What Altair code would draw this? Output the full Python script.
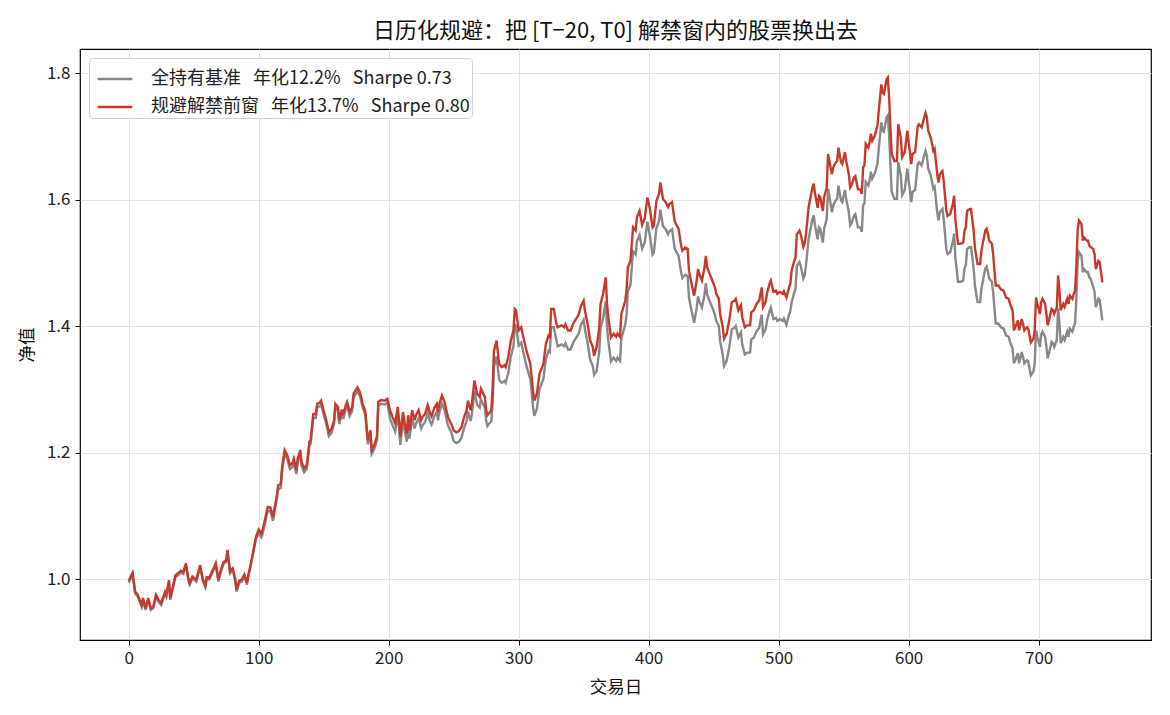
import altair as alt
import pandas as pd

# trading-day index of each read point
days = [0, 3, 5, 7, 10, 11, 13, 15, 17, 19, 21, 23, 25, 28, 29, 31, 32, 34, 36, 38,
        40, 42, 44, 46, 47, 49, 52, 55, 57, 59, 60, 62, 65, 67, 69, 71, 73, 75, 76, 78,
        80, 82, 83, 85, 87, 89, 91, 92, 94, 96, 98,
        100, 102, 103, 107, 109, 111, 114, 115, 117, 118, 120, 122, 124, 126, 127, 129, 130, 132, 133,
        135, 137, 139, 140, 142, 144, 145, 147, 148, 150, 152, 154, 156, 158, 159, 161, 162, 164, 165,
        167, 168, 170, 172, 173, 176, 178, 180, 182, 184, 186, 187, 189, 191, 192, 194, 197, 199,
        201, 203, 205, 207, 208, 209, 211, 212, 214, 215, 216, 218, 220, 221, 223, 225, 226, 228,
        230, 232, 233, 235, 237, 238, 239, 241, 243, 245, 246, 248,
        250, 252, 254, 256, 258, 260, 261, 263, 264, 266, 268, 270, 271, 274, 275, 276, 279,
        280, 281, 283, 285, 287, 289, 290, 292, 294, 296, 297, 298,
        300, 302, 303, 306, 309, 311, 312, 314, 316, 319, 321, 323, 324, 325, 327, 329,
        330, 333, 335, 336, 338, 340, 342, 344, 346, 348, 350, 351, 353, 355, 357, 358,
        360, 362, 363, 365, 367, 368, 369, 371, 373, 375, 376, 378, 379, 382, 383, 384, 386, 388,
        390, 391, 393, 395, 397, 399,
        401, 403, 404, 406, 408, 409, 411, 413, 415, 416, 418, 420, 421, 423, 425, 426, 428, 430,
        431, 433, 435, 437, 438, 439, 441, 443, 444, 445, 447, 449, 451, 452, 454, 455, 457, 458,
        460, 462, 464, 466, 467, 469, 471, 472, 474, 476, 478, 479, 481, 483, 485, 487, 488, 490,
        491, 493, 494, 496, 498, 499, 501, 503, 504, 506, 508, 509,
        510, 512, 513, 514, 516, 517, 519, 520, 521, 523, 524, 526, 527, 528, 530, 531, 532, 534,
        535, 537, 538, 539,
        541, 542, 544, 545, 546, 548, 549, 551, 552, 554, 555, 556, 558, 559, 561, 563, 564, 565,
        566, 567, 569, 570, 571, 572, 574, 575, 576, 577, 579, 580, 581, 583, 584, 585, 586, 587,
        589, 591, 592, 594, 595, 597, 599, 600, 601, 602, 603, 605, 607, 608, 610, 611, 613, 614,
        615, 617, 618, 619, 620, 622, 623, 624, 626, 627, 629, 630, 632, 634, 635, 636, 638, 640,
        642, 643, 644, 645, 647, 648, 650, 651, 653, 655, 656, 657, 659, 660, 661, 662, 664, 665,
        666, 667, 669, 671, 673, 675, 677, 678, 680,
        681, 683, 684, 685, 687, 688, 689, 691, 692, 693, 694, 696, 697, 698, 699, 701, 702, 703,
        705, 706, 707, 708, 710, 711, 712, 714, 715, 716, 717, 719, 720, 722, 723, 724, 726, 727,
        728, 729,
        730, 731, 733, 734, 735, 737, 738, 739, 740,
        742, 743, 744, 746, 747, 749]

# 规避解禁前窗 (red)
avoid = [0.997, 1.010, 0.980, 0.975, 0.959, 0.970, 0.954, 0.970, 0.954, 0.957, 0.975, 0.967, 0.962, 0.980, 0.975, 0.998, 0.970, 0.988, 1.006, 1.009,
         1.013, 1.011, 1.025, 1.000, 0.994, 1.004, 0.999, 1.022, 1.000, 0.990, 1.003, 1.002, 1.016, 1.025, 0.999, 1.015, 1.027, 1.030, 1.046, 1.012,
         1.017, 1.000, 0.983, 0.997, 0.999, 1.007, 0.994, 1.006, 1.025, 1.046, 1.067,
         1.078, 1.072, 1.077, 1.114, 1.113, 1.098, 1.133, 1.148, 1.150, 1.177, 1.204, 1.196, 1.180, 1.183, 1.190, 1.172, 1.190, 1.204, 1.185,
         1.175, 1.180, 1.217, 1.220, 1.261, 1.261, 1.277, 1.279, 1.282, 1.266, 1.251, 1.232, 1.237, 1.251, 1.277, 1.272, 1.251, 1.268, 1.259,
         1.275, 1.280, 1.264, 1.272, 1.293, 1.303, 1.295, 1.277, 1.266, 1.219, 1.235, 1.204, 1.212, 1.225, 1.280, 1.283, 1.282, 1.285,
         1.267, 1.256, 1.246, 1.272, 1.251, 1.225, 1.264, 1.251, 1.230, 1.259, 1.235, 1.267, 1.251, 1.259, 1.267, 1.251, 1.256, 1.261,
         1.275, 1.261, 1.257, 1.270, 1.277, 1.264, 1.277, 1.290, 1.280, 1.261, 1.254, 1.246,
         1.235, 1.232, 1.234, 1.240, 1.256, 1.267, 1.282, 1.267, 1.277, 1.314, 1.293, 1.288, 1.301, 1.288, 1.267, 1.259, 1.267,
         1.303, 1.361, 1.377, 1.340, 1.335, 1.338, 1.335, 1.351, 1.377, 1.393, 1.427, 1.425,
         1.393, 1.398, 1.388, 1.361, 1.340, 1.298, 1.282, 1.293, 1.324, 1.340, 1.372, 1.385, 1.383, 1.427, 1.427, 1.404,
         1.398, 1.401, 1.398, 1.403, 1.393, 1.393, 1.404, 1.411, 1.417, 1.432, 1.440, 1.424, 1.404, 1.377, 1.367, 1.353,
         1.367, 1.398, 1.435, 1.451, 1.477, 1.435, 1.414, 1.382, 1.388, 1.383, 1.388, 1.383, 1.419, 1.440, 1.456, 1.493, 1.503, 1.556,
         1.551, 1.572, 1.582, 1.560, 1.570, 1.603,
         1.585, 1.556, 1.559, 1.598, 1.609, 1.627, 1.601, 1.596, 1.588, 1.593, 1.596, 1.566, 1.561, 1.554, 1.527, 1.519, 1.524, 1.522,
         1.488, 1.467, 1.448, 1.472, 1.490, 1.482, 1.472, 1.493, 1.511, 1.493, 1.482, 1.472, 1.461, 1.451, 1.443, 1.419, 1.398, 1.380,
         1.388, 1.409, 1.438, 1.440, 1.443, 1.425, 1.433, 1.414, 1.398, 1.401, 1.401, 1.422, 1.425, 1.435, 1.440, 1.461, 1.430, 1.438,
         1.451, 1.467, 1.472, 1.454, 1.456, 1.451, 1.454, 1.451, 1.455, 1.445, 1.461, 1.467,
         1.488, 1.503, 1.509, 1.545, 1.551, 1.545, 1.525, 1.530, 1.545, 1.587, 1.598, 1.619, 1.625, 1.609, 1.587, 1.606, 1.604, 1.582,
         1.604, 1.619, 1.672, 1.661,
         1.640, 1.651, 1.659, 1.661, 1.682, 1.659, 1.656, 1.675, 1.661, 1.640, 1.619, 1.622, 1.635, 1.637, 1.616, 1.616, 1.609, 1.651,
         1.654, 1.688, 1.682, 1.691, 1.704, 1.693, 1.701, 1.709, 1.717, 1.740, 1.782, 1.769, 1.767, 1.790, 1.793, 1.761, 1.714, 1.672,
         1.661, 1.661, 1.719, 1.698, 1.667, 1.675, 1.709, 1.690, 1.675, 1.656, 1.672, 1.675, 1.716, 1.719, 1.714, 1.722, 1.737, 1.730,
         1.709, 1.698, 1.688, 1.677, 1.680, 1.640, 1.627, 1.640, 1.645, 1.629, 1.582, 1.574, 1.577, 1.593, 1.606, 1.567, 1.530, 1.530,
         1.532, 1.551, 1.556, 1.582, 1.585, 1.585, 1.551, 1.524, 1.498, 1.498, 1.519, 1.530, 1.551, 1.554, 1.546, 1.535, 1.530, 1.514,
         1.488, 1.464, 1.464, 1.458, 1.456, 1.445, 1.443, 1.435, 1.424,
         1.393, 1.403, 1.409, 1.393, 1.411, 1.403, 1.393, 1.398, 1.396, 1.385, 1.374, 1.380, 1.393, 1.445, 1.435, 1.419, 1.438, 1.443,
         1.435, 1.419, 1.401, 1.409, 1.427, 1.425, 1.419, 1.430, 1.480, 1.456, 1.425, 1.435, 1.430, 1.443, 1.435, 1.448, 1.443, 1.451,
         1.456, 1.493,
         1.551, 1.567, 1.561, 1.535, 1.540, 1.535, 1.535, 1.527, 1.525,
         1.522, 1.514, 1.490, 1.503, 1.501, 1.469]

# 全持有基准 (grey)
base = [0.994, 1.007, 0.977, 0.972, 0.956, 0.967, 0.951, 0.967, 0.951, 0.954, 0.972, 0.964, 0.959, 0.977, 0.972, 0.995, 0.967, 0.985, 1.003, 1.006,
        1.010, 1.008, 1.022, 0.997, 0.991, 1.001, 0.996, 1.019, 0.997, 0.987, 1.000, 0.999, 1.013, 1.022, 0.996, 1.012, 1.024, 1.027, 1.043, 1.009,
        1.014, 0.997, 0.980, 0.994, 0.996, 1.004, 0.991, 1.003, 1.022, 1.043, 1.064,
        1.072, 1.066, 1.071, 1.108, 1.107, 1.092, 1.127, 1.142, 1.144, 1.171, 1.198, 1.190, 1.174, 1.177, 1.184, 1.166, 1.184, 1.198, 1.179,
        1.169, 1.174, 1.211, 1.214, 1.255, 1.255, 1.271, 1.273, 1.276, 1.260, 1.245, 1.226, 1.231, 1.245, 1.271, 1.266, 1.245, 1.262, 1.253,
        1.269, 1.274, 1.258, 1.266, 1.287, 1.297, 1.289, 1.271, 1.260, 1.213, 1.229, 1.198, 1.206, 1.219, 1.274, 1.277, 1.276, 1.279,
        1.254, 1.243, 1.233, 1.259, 1.238, 1.212, 1.251, 1.238, 1.217, 1.246, 1.222, 1.254, 1.238, 1.246, 1.254, 1.238, 1.243, 1.248,
        1.262, 1.248, 1.244, 1.257, 1.264, 1.251, 1.264, 1.277, 1.267, 1.248, 1.241, 1.233,
        1.218, 1.215, 1.217, 1.223, 1.239, 1.250, 1.265, 1.250, 1.260, 1.297, 1.276, 1.271, 1.284, 1.271, 1.250, 1.242, 1.250,
        1.278, 1.336, 1.352, 1.315, 1.310, 1.313, 1.310, 1.326, 1.352, 1.368, 1.402, 1.400,
        1.369, 1.374, 1.364, 1.337, 1.316, 1.274, 1.258, 1.269, 1.300, 1.316, 1.348, 1.361, 1.359, 1.398, 1.398, 1.378,
        1.368, 1.371, 1.368, 1.373, 1.363, 1.363, 1.374, 1.381, 1.387, 1.402, 1.410, 1.394, 1.374, 1.347, 1.337, 1.323,
        1.329, 1.360, 1.397, 1.413, 1.439, 1.397, 1.376, 1.344, 1.350, 1.345, 1.350, 1.345, 1.381, 1.402, 1.418, 1.455, 1.465, 1.518,
        1.513, 1.534, 1.544, 1.522, 1.532, 1.565,
        1.542, 1.513, 1.516, 1.555, 1.566, 1.584, 1.558, 1.553, 1.545, 1.550, 1.553, 1.523, 1.518, 1.511, 1.484, 1.476, 1.481, 1.479,
        1.445, 1.424, 1.405, 1.429, 1.447, 1.439, 1.429, 1.450, 1.468, 1.450, 1.439, 1.429, 1.418, 1.408, 1.400, 1.376, 1.355, 1.337,
        1.345, 1.366, 1.395, 1.397, 1.400, 1.382, 1.390, 1.371, 1.355, 1.358, 1.358, 1.379, 1.382, 1.392, 1.397, 1.418, 1.387, 1.395,
        1.408, 1.424, 1.429, 1.411, 1.413, 1.408, 1.411, 1.408, 1.412, 1.402, 1.418, 1.424,
        1.438, 1.453, 1.459, 1.495, 1.501, 1.495, 1.475, 1.480, 1.495, 1.537, 1.548, 1.569, 1.575, 1.559, 1.537, 1.556, 1.554, 1.532,
        1.554, 1.569, 1.617, 1.606,
        1.580, 1.591, 1.599, 1.601, 1.622, 1.599, 1.596, 1.615, 1.601, 1.580, 1.559, 1.562, 1.575, 1.577, 1.556, 1.556, 1.549, 1.591,
        1.594, 1.628, 1.622, 1.631, 1.644, 1.633, 1.641, 1.649, 1.657, 1.680, 1.722, 1.709, 1.707, 1.730, 1.733, 1.701, 1.654, 1.612,
        1.601, 1.601, 1.659, 1.638, 1.607, 1.615, 1.649, 1.630, 1.615, 1.596, 1.612, 1.615, 1.656, 1.659, 1.654, 1.662, 1.677, 1.670,
        1.649, 1.638, 1.628, 1.617, 1.620, 1.580, 1.567, 1.580, 1.585, 1.569, 1.522, 1.514, 1.517, 1.533, 1.546, 1.507, 1.470, 1.470,
        1.472, 1.491, 1.496, 1.522, 1.525, 1.525, 1.491, 1.464, 1.438, 1.438, 1.459, 1.470, 1.491, 1.494, 1.486, 1.475, 1.470, 1.454,
        1.428, 1.404, 1.404, 1.398, 1.396, 1.385, 1.383, 1.375, 1.364,
        1.341, 1.351, 1.357, 1.341, 1.359, 1.351, 1.341, 1.346, 1.344, 1.333, 1.322, 1.328, 1.341, 1.393, 1.383, 1.367, 1.386, 1.391,
        1.383, 1.367, 1.349, 1.357, 1.375, 1.373, 1.367, 1.378, 1.428, 1.404, 1.373, 1.383, 1.378, 1.391, 1.383, 1.396, 1.391, 1.399,
        1.404, 1.441,
        1.501, 1.517, 1.511, 1.485, 1.490, 1.485, 1.485, 1.477, 1.475,
        1.462, 1.454, 1.430, 1.443, 1.441, 1.409]

NB = "\u00a0\u00a0\u00a0"
TAIL = "\u00a0\u00a0"
base_label = "全持有基准" + NB + "年化12.2%" + NB + "Sharpe 0.73" + TAIL
avoid_label = "规避解禁前窗" + NB + "年化13.7%" + NB + "Sharpe 0.80" + TAIL
series_order = [base_label, avoid_label]
series_colors = ["#888888", "#c8392b"]

x_ticks = [0, 100, 200, 300, 400, 500, 600, 700]
y_ticks = [1.0, 1.2, 1.4, 1.6, 1.8]

assert len(days) == len(avoid) == len(base)

df_base = pd.DataFrame({"day": days, "value": base, "series": base_label})
df_avoid = pd.DataFrame({"day": days, "value": avoid, "series": avoid_label})

FONT = "Noto Sans CJK SC"

x_enc = alt.X("day:Q", scale=alt.Scale(domain=[-37.45, 786.45], nice=False, zero=False),
              axis=alt.Axis(values=x_ticks, title="交易日", format="d"))
y_enc = alt.Y("value:Q", scale=alt.Scale(domain=[0.9036, 1.838], nice=False, zero=False),
              axis=alt.Axis(values=y_ticks, title="净值", format=".1f"))
color_enc = alt.Color("series:N",
                      scale=alt.Scale(domain=series_order, range=series_colors),
                      legend=alt.Legend(title=None, orient="top-left", offset=9,
                                        symbolType="stroke", symbolSize=1200,
                                        symbolStrokeWidth=2.5, symbolOffset=5,
                                        labelFontSize=18,
                                        labelFont=FONT, labelColor="#222222",
                                        labelOffset=17, rowPadding=-9,
                                        fillColor="white", strokeColor="#d0d0d0",
                                        cornerRadius=4, padding=2,
                                        labelLimit=600))

line_base = alt.Chart(df_base).mark_line(strokeWidth=2.4).encode(
    x=x_enc, y=y_enc, color=color_enc)
line_avoid = alt.Chart(df_avoid).mark_line(strokeWidth=2.4).encode(
    x=x_enc, y=y_enc, color=color_enc)

chart = alt.layer(line_base, line_avoid).properties(
    width=1071,
    height=591,
    title=alt.TitleParams("日历化规避：把 [T−20, T0] 解禁窗内的股票换出去",
                          fontSize=22, fontWeight="normal", font=FONT,
                          color="#111111", offset=6, anchor="middle"),
    autosize=alt.AutoSizeParams(type="none"),
    padding={"left": 80, "top": 49, "right": 19, "bottom": 75},
).configure_view(
    stroke="black", strokeWidth=1.2
).configure_axis(
    domain=False,
    grid=True, gridColor="#e3e3e3", gridWidth=1,
    tickColor="black", tickSize=5, tickWidth=1,
    labelFont=FONT, labelFontSize=17, labelColor="#222222", labelPadding=5,
    titleFont=FONT, titleFontSize=17.5, titleFontWeight="normal", titleColor="#111111",
).configure_axisX(
    titlePadding=12
).configure_axisY(
    titlePadding=10
)

chart.save("out.html", embed_options={"renderer": "svg", "actions": False})
